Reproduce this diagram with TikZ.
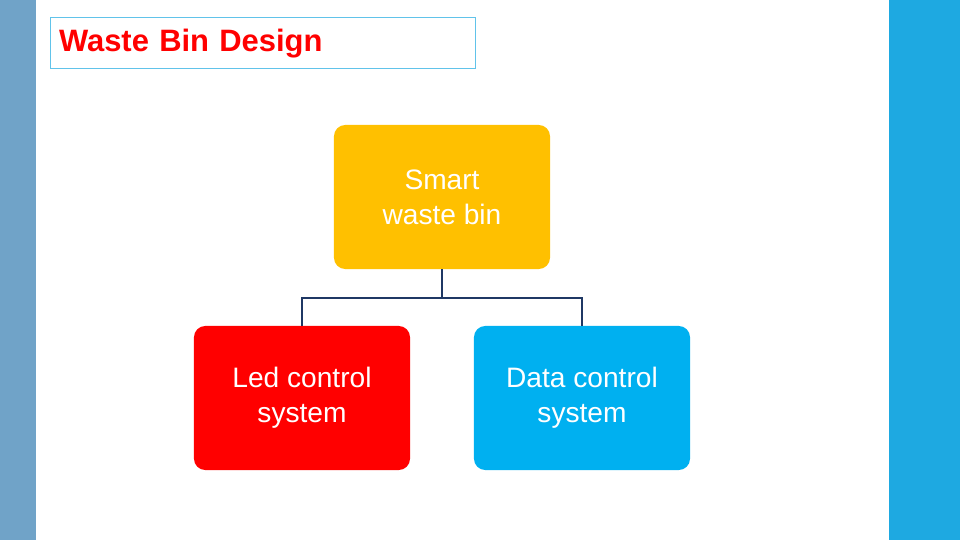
\documentclass[tikz,border=0pt]{standalone}
\usepackage{fontspec}
\setmainfont{Liberation Sans}
\usetikzlibrary{positioning}
\definecolor{stripgrey}{RGB}{112,163,200}
\definecolor{stripblue}{RGB}{30,169,225}
\definecolor{binyellow}{RGB}{255,192,0}
\definecolor{binblue}{RGB}{0,176,240}
\definecolor{linknavy}{RGB}{31,56,100}
\tikzset{
  binbox/.style={rounded corners=8pt,minimum width=5.4cm,minimum height=3.6cm,
    text=white,align=center,font=\fontsize{20}{25}\selectfont,inner sep=0pt},
  link/.style={draw=linknavy,line width=1.2pt}
}
\begin{document}
\begin{tikzpicture}[x=0.025cm,y=-0.025cm]
    \useasboundingbox (0,0) rectangle (960,540);
    \fill[stripgrey] (0,0) rectangle (36,540);
    \fill[stripblue] (889,0) rectangle (960,540);
    \node[draw=stripblue!70,line width=0.8pt,minimum width=10.5cm,minimum height=1.275cm,
      anchor=north west,inner xsep=6pt,text=red,font=\fontsize{22}{26}\selectfont\bfseries,
      text width=10.2cm] (title) at (50,17) {Waste Bin Design};
    \node[binbox,fill=binyellow] (bin) at (442,197) {Smart\\waste bin};
    \node[binbox,fill=red] (led) at (302,398) {Led control\\system};
    \node[binbox,fill=binblue] (data) at (582,398) {Data control\\system};
    \coordinate (fork) at (442,298);
    \draw[link] (bin.south) -- (fork);
    \draw[link] (led.north) |- (fork) -| (data.north);
\end{tikzpicture}
\end{document}
